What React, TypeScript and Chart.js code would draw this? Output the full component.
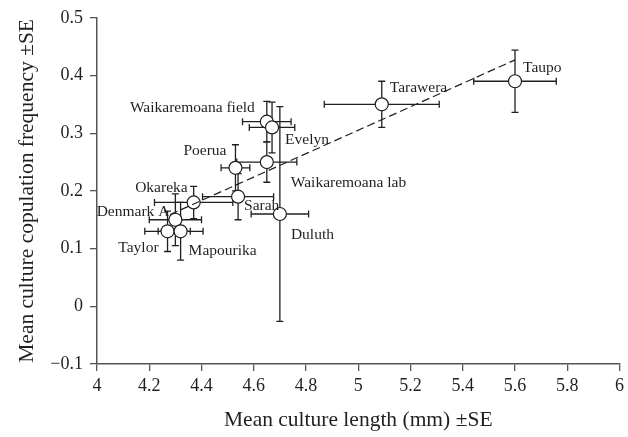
import React, { useEffect, useRef } from "react";
import { Chart, registerables } from "chart.js";

Chart.register(...registerables);

// ---- data ----
const populations = [
  "Taupo",
  "Tarawera",
  "Waikaremoana field",
  "Evelyn",
  "Waikaremoana lab",
  "Poerua",
  "Sarah",
  "Okareka",
  "Denmark A",
  "Taylor",
  "Mapourika",
  "Duluth",
];
const meanLength = [5.6, 5.09, 4.65, 4.67, 4.65, 4.53, 4.54, 4.37, 4.3, 4.27, 4.32, 4.7];
const meanFrequency = [0.39, 0.35, 0.32, 0.31, 0.25, 0.24, 0.19, 0.18, 0.15, 0.13, 0.13, 0.16];
const lengthSE = [0.158, 0.22, 0.093, 0.087, 0.115, 0.055, 0.136, 0.15, 0.1, 0.087, 0.086, 0.11];
const frequencySE = [0.054, 0.04, 0.035, 0.044, 0.035, 0.04, 0.04, 0.028, 0.045, 0.035, 0.05, 0.186];
const fitLength = [4.28, 5.6];
const fitFrequency = [0.159, 0.427];
const xTicks = [4, 4.2, 4.4, 4.6, 4.8, 5, 5.2, 5.4, 5.6, 5.8, 6];
const yTicks = [-0.1, 0, 0.1, 0.2, 0.3, 0.4, 0.5];

// ---- label placement (style) ----
const labelPlacement: Record<string, { dx: number; dy: number; align: CanvasTextAlign }> = {
  Taupo: { dx: 8, dy: -13, align: "left" },
  Tarawera: { dx: 8, dy: -16, align: "left" },
  "Waikaremoana field": { dx: -12, dy: -14, align: "right" },
  Evelyn: { dx: 13, dy: 12, align: "left" },
  Poerua: { dx: -9, dy: -17, align: "right" },
  "Waikaremoana lab": { dx: 24, dy: 21, align: "left" },
  Okareka: { dx: -6, dy: -15, align: "right" },
  Sarah: { dx: 6, dy: 9, align: "left" },
  "Denmark A": { dx: -6, dy: -8, align: "right" },
  Taylor: { dx: -9, dy: 17, align: "right" },
  Mapourika: { dx: 8, dy: 20, align: "left" },
  Duluth: { dx: 11, dy: 21, align: "left" },
};

const FONT = "'Liberation Serif', 'Times New Roman', serif";
const INK = "#231f20";
const AXIS = "#555555";

const fmt = (v: number) => {
  const s = Number(v.toFixed(1)).toString();
  return s.startsWith("-") ? "\u2212" + s.slice(1) : s;
};

const errorBarsPlugin = {
  id: "errorBarsAndLabels",
  beforeDatasetsDraw(chart: any) {
    const { ctx, scales } = chart;
    const xs = scales.x;
    const ys = scales.y;
    const cap = 3.5;
    ctx.save();
    ctx.strokeStyle = INK;
    ctx.lineWidth = 1.3;
    for (let i = 0; i < populations.length; i++) {
      const cx = xs.getPixelForValue(meanLength[i]);
      const cy = ys.getPixelForValue(meanFrequency[i]);
      const x0 = xs.getPixelForValue(meanLength[i] - lengthSE[i]);
      const x1 = xs.getPixelForValue(meanLength[i] + lengthSE[i]);
      const y0 = ys.getPixelForValue(meanFrequency[i] - frequencySE[i]);
      const y1 = ys.getPixelForValue(meanFrequency[i] + frequencySE[i]);
      ctx.beginPath();
      ctx.moveTo(x0, cy);
      ctx.lineTo(x1, cy);
      ctx.moveTo(x0, cy - cap);
      ctx.lineTo(x0, cy + cap);
      ctx.moveTo(x1, cy - cap);
      ctx.lineTo(x1, cy + cap);
      ctx.moveTo(cx, y0);
      ctx.lineTo(cx, y1);
      ctx.moveTo(cx - cap, y0);
      ctx.lineTo(cx + cap, y0);
      ctx.moveTo(cx - cap, y1);
      ctx.lineTo(cx + cap, y1);
      ctx.stroke();
    }
    ctx.restore();
  },
  afterDatasetsDraw(chart: any) {
    const { ctx, scales } = chart;
    const xs = scales.x;
    const ys = scales.y;
    ctx.save();
    ctx.fillStyle = INK;
    ctx.font = `15.5px ${FONT}`;
    ctx.textBaseline = "middle";
    for (let i = 0; i < populations.length; i++) {
      const p = labelPlacement[populations[i]];
      const cx = xs.getPixelForValue(meanLength[i]);
      const cy = ys.getPixelForValue(meanFrequency[i]);
      ctx.textAlign = p.align;
      ctx.fillText(populations[i], cx + p.dx, cy + p.dy);
    }
    ctx.restore();
  },
};

export default function App() {
  const ref = useRef<HTMLCanvasElement | null>(null);

  useEffect(() => {
    if (!ref.current) return;
    const chart = new Chart(ref.current, {
      type: "scatter",
      data: {
        datasets: [
          {
            type: "line",
            label: "fit",
            data: fitLength.map((x, i) => ({ x, y: fitFrequency[i] })),
            borderColor: INK,
            borderWidth: 1.2,
            borderDash: [8, 4],
            pointRadius: 0,
            fill: false,
            order: 0,
          } as any,
          {
            label: "populations",
            data: meanLength.map((x, i) => ({ x, y: meanFrequency[i] })),
            pointRadius: 6.5,
            pointBackgroundColor: "#ffffff",
            pointBorderColor: INK,
            pointBorderWidth: 1.2,
            showLine: false,
            order: 1,
          },
        ],
      },
      options: {
        animation: false,
        responsive: true,
        maintainAspectRatio: false,
        events: [],
        layout: { padding: { top: 11, right: 4, left: 0, bottom: 0 } },
        plugins: {
          legend: { display: false },
          tooltip: { enabled: false },
        },
        scales: {
          x: {
            type: "linear",
            min: 4,
            max: 6,
            afterBuildTicks: (scale: any) => {
              scale.ticks = xTicks.map((v) => ({ value: v }));
            },
            afterFit: (scale: any) => {
              scale.height = 73;
            },
            ticks: {
              callback: (v: any) => fmt(Number(v)),
              color: INK,
              font: { family: FONT, size: 18 },
              padding: 4,
              maxRotation: 0,
            },
            grid: {
              display: true,
              drawOnChartArea: false,
              drawTicks: true,
              tickLength: 7,
              color: AXIS,
              lineWidth: 1.3,
            },
            border: { display: true, color: AXIS, width: 1.5 },
            title: {
              display: true,
              text: "Mean culture length (mm) \u00b1SE",
              color: INK,
              font: { family: FONT, size: 21.5 },
              padding: { top: 0, bottom: 4 },
            },
          },
          y: {
            type: "linear",
            min: -0.1,
            max: 0.5,
            afterBuildTicks: (scale: any) => {
              scale.ticks = yTicks.map((v) => ({ value: v }));
            },
            afterFit: (scale: any) => {
              scale.width = 97;
            },
            ticks: {
              callback: (v: any) => fmt(Number(v)),
              color: INK,
              font: { family: FONT, size: 18 },
              padding: 7,
            },
            grid: {
              display: true,
              drawOnChartArea: false,
              drawTicks: true,
              tickLength: 7,
              color: AXIS,
              lineWidth: 1.3,
            },
            border: { display: true, color: AXIS, width: 1.5 },
            title: {
              display: true,
              text: "Mean culture copulation frequency \u00b1SE",
              color: INK,
              font: { family: FONT, size: 21.5 },
              padding: { top: 14, bottom: 0 },
            },
          },
        },
      },
      plugins: [errorBarsPlugin],
    });
    return () => chart.destroy();
  }, []);

  return (
    <div style={{ position: "absolute", left: 0, top: 0, width: 628, height: 437, background: "#fff" }}>
      <canvas ref={ref} />
    </div>
  );
}
